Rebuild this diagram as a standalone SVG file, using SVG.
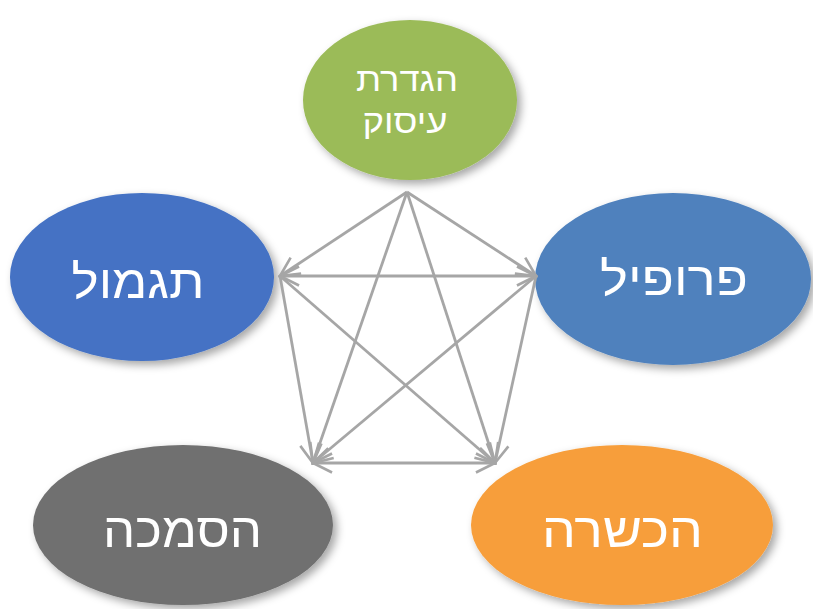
<svg xmlns="http://www.w3.org/2000/svg" width="813" height="609" viewBox="0 0 813 609">
<style>
.lbl{fill:#fff;font-family:"Liberation Sans","DejaVu Sans",sans-serif;text-anchor:middle}
.big{font-size:49px}
.mid{font-size:47px}
.sm{font-size:34px}
.edge{stroke:#A6A6A6;stroke-width:2.8;fill:none}
</style>
<defs>
<filter id="sh" x="-20%" y="-20%" width="150%" height="150%">
<feDropShadow dx="4" dy="4" stdDeviation="4" flood-color="#000" flood-opacity="0.35"/>
</filter>
<marker id="ah" viewBox="0 0 20 20" refX="18" refY="10" markerWidth="8.5" markerHeight="8.5" markerUnits="strokeWidth" orient="auto-start-reverse">
<path d="M2,2 L18,10 L2,18" fill="none" stroke="#A6A6A6" stroke-width="2.2"/>
</marker>
</defs>
<g id="n1"><ellipse cx="410" cy="100" rx="107" ry="80" fill="#9BBB59" filter="url(#sh)"/>
<text class="lbl sm" x="407" y="91" textLength="102" lengthAdjust="spacingAndGlyphs">הגדרת</text><text class="lbl sm" x="405" y="133" textLength="85" lengthAdjust="spacingAndGlyphs">עיסוק</text></g>
<g id="n2"><ellipse cx="142" cy="277" rx="132" ry="84" fill="#4472C4" filter="url(#sh)"/>
<text class="lbl mid" x="138" y="298" textLength="133" lengthAdjust="spacingAndGlyphs">תגמול</text></g>
<g id="n3"><ellipse cx="673" cy="279" rx="138" ry="86" fill="#4F81BD" filter="url(#sh)"/>
<text class="lbl mid" x="674" y="295" textLength="148" lengthAdjust="spacingAndGlyphs">פרופיל</text></g>
<g id="n4"><ellipse cx="183" cy="525" rx="150" ry="80" fill="#707070" filter="url(#sh)"/>
<text class="lbl big" x="182.5" y="547" textLength="159" lengthAdjust="spacingAndGlyphs">הסמכה</text></g>
<g id="n5"><ellipse cx="622" cy="525" rx="151" ry="80" fill="#F79E3B" filter="url(#sh)"/>
<text class="lbl big" x="622.5" y="547" textLength="161" lengthAdjust="spacingAndGlyphs">הכשרה</text></g>
<g id="edges">
<line class="edge" x1="407" y1="192" x2="280" y2="276" marker-end="url(#ah)"/>
<line class="edge" x1="407" y1="192" x2="536" y2="276" marker-end="url(#ah)"/>
<line class="edge" x1="407" y1="192" x2="313" y2="463" marker-end="url(#ah)"/>
<line class="edge" x1="407" y1="192" x2="495" y2="463" marker-end="url(#ah)"/>
<line class="edge" x1="280" y1="276" x2="536" y2="276" marker-start="url(#ah)" marker-end="url(#ah)"/>
<line class="edge" x1="280" y1="276" x2="313" y2="463" marker-end="url(#ah)"/>
<line class="edge" x1="280" y1="276" x2="495" y2="463" marker-end="url(#ah)"/>
<line class="edge" x1="536" y1="276" x2="313" y2="463" marker-end="url(#ah)"/>
<line class="edge" x1="536" y1="276" x2="495" y2="463" marker-end="url(#ah)"/>
<line class="edge" x1="313" y1="463" x2="495" y2="463" marker-start="url(#ah)" marker-end="url(#ah)"/>
</g>
</svg>
